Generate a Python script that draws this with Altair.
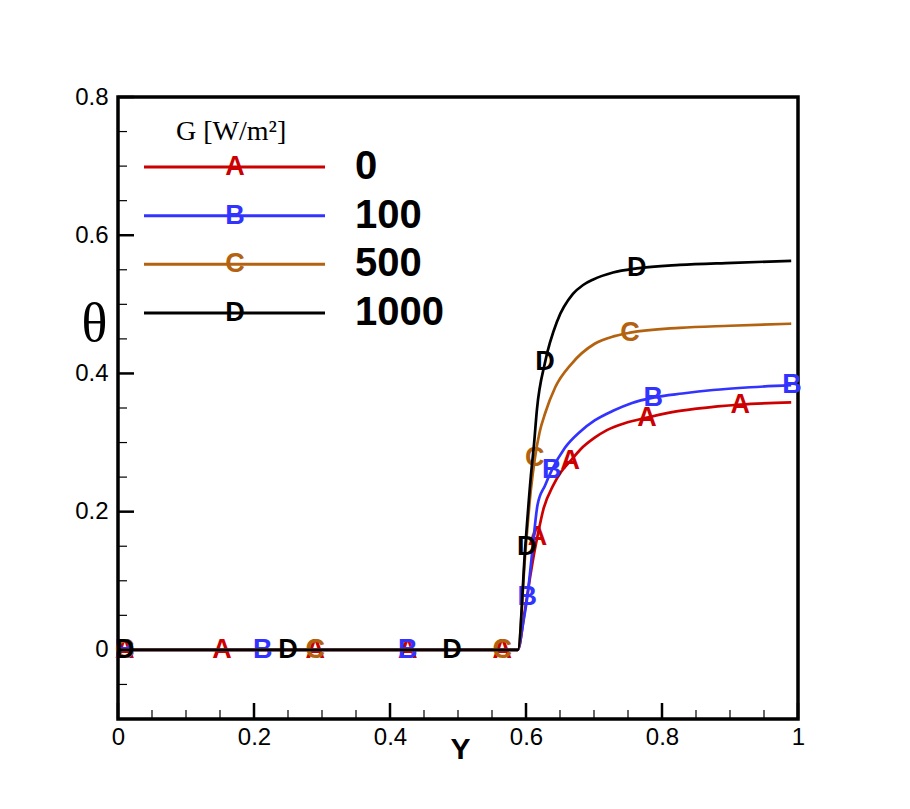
import altair as alt
import pandas as pd

SANS = "Liberation Sans"
SERIF = "Liberation Serif"

# ---- series definitions ----
series = ["0", "100", "500", "1000"]
letters = ["A", "B", "C", "D"]
colors = ["#cc0000", "#3333ff", "#b3620f", "#000000"]
legend_title = "G [W/m²]"

# ---- curve data (Y, theta) ----
y_A = [0, 0.588, 0.598, 0.606, 0.612, 0.617, 0.626, 0.640, 0.652, 0.665, 0.680, 0.701,
       0.719, 0.745, 0.778, 0.815, 0.851, 0.915, 0.990]
t_A = [0, 0, 0.055, 0.105, 0.140, 0.165, 0.205, 0.238, 0.258, 0.273, 0.290, 0.307,
       0.318, 0.328, 0.336, 0.344, 0.349, 0.355, 0.358]

y_B = [0, 0.588, 0.596, 0.602, 0.609, 0.617, 0.628, 0.638, 0.657, 0.680, 0.701, 0.728,
       0.755, 0.787, 0.830, 0.875, 0.930, 0.990]
t_B = [0, 0, 0.040, 0.077, 0.140, 0.210, 0.238, 0.260, 0.292, 0.316, 0.332, 0.346,
       0.357, 0.365, 0.371, 0.376, 0.380, 0.383]

y_C = [0, 0.588, 0.599, 0.607, 0.613, 0.620, 0.628, 0.643, 0.667, 0.701, 0.730, 0.753,
       0.826, 0.900, 0.990]
t_C = [0, 0, 0.140, 0.230, 0.277, 0.315, 0.342, 0.380, 0.414, 0.443, 0.454, 0.459,
       0.466, 0.469, 0.472]

y_D = [0, 0.588, 0.599, 0.607, 0.612, 0.616, 0.628, 0.646, 0.669, 0.684, 0.699, 0.728,
       0.763, 0.826, 0.904, 0.990]
t_D = [0, 0, 0.150, 0.250, 0.300, 0.347, 0.416, 0.476, 0.515, 0.528, 0.536, 0.546,
       0.552, 0.557, 0.560, 0.563]

# ---- symbol (letter marker) positions ----
mk_y_A = [0.01, 0.153, 0.29, 0.426, 0.565, 0.617, 0.665, 0.778, 0.915]
mk_t_A = [0, 0, 0, 0, 0, 0.163, 0.273, 0.336, 0.355]
mk_y_B = [0.01, 0.213, 0.426, 0.602, 0.638, 0.787, 0.991]
mk_t_B = [0, 0, 0, 0.077, 0.260, 0.365, 0.383]
mk_y_C = [0.01, 0.29, 0.565, 0.613, 0.753]
mk_t_C = [0, 0, 0, 0.277, 0.459]
mk_y_D = [0.01, 0.25, 0.491, 0.601, 0.628, 0.763]
mk_t_D = [0, 0, 0, 0.149, 0.416, 0.552]

# ---- tick values ----
x_major = [0, 0.2, 0.4, 0.6, 0.8, 1.0]
x_minor = [0.05, 0.1, 0.15, 0.25, 0.3, 0.35, 0.45, 0.5, 0.55, 0.65, 0.7, 0.75, 0.85, 0.9, 0.95]
y_major = [0, 0.2, 0.4, 0.6, 0.8]
y_minor = [-0.05, 0.05, 0.1, 0.15, 0.25, 0.3, 0.35, 0.45, 0.5, 0.55, 0.65, 0.7, 0.75]

curves = [(y_A, t_A), (y_B, t_B), (y_C, t_C), (y_D, t_D)]
marks = [(mk_y_A, mk_t_A), (mk_y_B, mk_t_B), (mk_y_C, mk_t_C), (mk_y_D, mk_t_D)]

W, H = 680, 622

xs = alt.Scale(domain=[0, 1], nice=False, zero=False)
ys = alt.Scale(domain=[-0.1, 0.8], nice=False, zero=False)
cs = alt.Scale(domain=series, range=colors)

xaxis = alt.Axis(values=x_major, format="~g", title="Y", labelFont=SANS, labelFontSize=24,
                 labelColor="black", labelPadding=6, ticks=False, domain=False, grid=False,
                 titleFont=SANS, titleFontSize=30, titleFontWeight="bold", titleColor="black",
                 titleX=342, titleY=39, titleBaseline="alphabetic", titleAlign="center",
                 labelFlush=False, labelOverlap=False)
yaxis = alt.Axis(values=y_major, format="~g", title="θ", labelFont=SANS, labelFontSize=24,
                 labelColor="black", labelPadding=10, ticks=False, domain=False, grid=False,
                 titleFont=SERIF, titleFontSize=54, titleFontWeight="normal", titleColor="black",
                 titleAngle=0, titleX=-24, titleY=227, titleAlign="center", titleBaseline="middle",
                 labelFlush=False, labelOverlap=False)


def X(f):
    return alt.X(f, scale=xs, axis=xaxis)


def Yc(f):
    return alt.Y(f, scale=ys, axis=yaxis)


layers = []

# inward ticks
layers.append(alt.Chart(pd.DataFrame({"v": x_minor})).mark_rule(color="black", strokeWidth=1.2)
              .encode(x=X("v:Q"), y=alt.value(H), y2=alt.value(H - 9)))
layers.append(alt.Chart(pd.DataFrame({"v": x_major})).mark_rule(color="black", strokeWidth=2.5)
              .encode(x=X("v:Q"), y=alt.value(H), y2=alt.value(H - 16)))
layers.append(alt.Chart(pd.DataFrame({"v": y_minor})).mark_rule(color="black", strokeWidth=1.2)
              .encode(y=Yc("v:Q"), x=alt.value(0), x2=alt.value(9)))
layers.append(alt.Chart(pd.DataFrame({"v": y_major})).mark_rule(color="black", strokeWidth=2.5)
              .encode(y=Yc("v:Q"), x=alt.value(0), x2=alt.value(16)))

for s, let, (cy, ct), (my, mt) in zip(series, letters, curves, marks):
    cdf = pd.DataFrame({"Y": cy, "theta": ct, "series": s})
    mdf = pd.DataFrame({"Y": my, "theta": mt, "series": s, "letter": let})
    layers.append(alt.Chart(cdf).mark_line(strokeWidth=2.7, interpolate="monotone")
                  .encode(x=X("Y:Q"), y=Yc("theta:Q"),
                          color=alt.Color("series:N", scale=cs, legend=None)))
    layers.append(alt.Chart(mdf).mark_text(font=SANS, fontWeight="bold", fontSize=27,
                                           align="center", baseline="middle")
                  .encode(x=X("Y:Q"), y=Yc("theta:Q"), text="letter:N",
                          color=alt.Color("series:N", scale=cs, legend=None)))

data_layer = alt.layer(*layers)

# ---- hand-built legend ----
leg_df = pd.DataFrame({"series": series, "letter": letters})
ly = alt.Y("series:N", scale=alt.Scale(type="point", domain=series, range=[70, 216], padding=0),
           axis=None)
lc = alt.Color("series:N", scale=cs, legend=None)

leg_lines = alt.Chart(leg_df).mark_rule(strokeWidth=3).encode(
    y=ly, x=alt.value(26), x2=alt.value(207), color=lc)
leg_letters = alt.Chart(leg_df).mark_text(font=SANS, fontWeight="bold", fontSize=27,
                                          align="center", baseline="middle").encode(
    y=ly, x=alt.value(117), text="letter:N", color=lc)
leg_labels = alt.Chart(leg_df).mark_text(font=SANS, fontWeight="bold", fontSize=40,
                                         align="left", baseline="middle", color="black").encode(
    y=ly, x=alt.value(237), text="series:N")
leg_title = alt.Chart(pd.DataFrame({"t": [legend_title]})).mark_text(
    font=SERIF, fontSize=28, align="left", baseline="middle", color="black").encode(
    x=alt.value(58), y=alt.value(35), text="t:N")

legend_layer = alt.layer(leg_lines, leg_letters, leg_labels, leg_title)

chart = alt.layer(data_layer, legend_layer).resolve_scale(y="independent").properties(
    width=W, height=H,
    autosize=alt.AutoSizeParams(type="none"),
    padding={"left": 110, "top": 89, "right": 100, "bottom": 80},
    background="white",
).configure_view(stroke="black", strokeWidth=3.5)

chart.save("out.html", embed_options={"renderer": "svg", "actions": False})
